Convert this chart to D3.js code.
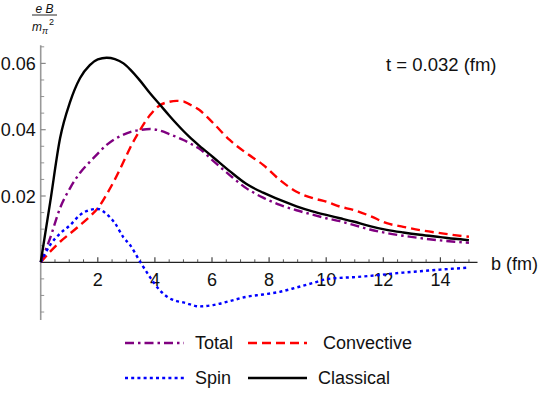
<!DOCTYPE html>
<html><head><meta charset="utf-8">
<script src="https://cdn.jsdelivr.net/npm/d3@7"></script>
<style>body{margin:0;background:#fff}svg{display:block;font-family:"Liberation Sans",Arial,sans-serif}</style>
</head><body><svg id="c" width="542" height="400"></svg>
<script>
const bValues = [0,0.33,0.68,1.03,1.38,1.72,2.0,2.31,2.6,2.9,3.13,3.48,3.83,4.18,4.5,4.76,5.0,5.2,5.55,6.04,6.62,7.21,7.79,8.38,8.96,9.55,10.0,10.48,10.95,11.53,12.12,12.7,13.29,14.0,14.5,15.0];
const classical = [0,0.018,0.0375,0.0484,0.0556,0.0595,0.0612,0.0617,0.0613,0.06,0.0582,0.0548,0.051,0.0475,0.0443,0.0418,0.0396,0.0379,0.0352,0.0317,0.0275,0.0236,0.021,0.0188,0.0169,0.0153,0.0143,0.0133,0.0123,0.0109,0.0098,0.009,0.0083,0.0076,0.0071,0.0067];
const total = [0,0.0073,0.0164,0.0224,0.027,0.0303,0.0328,0.0354,0.0372,0.0385,0.0393,0.0399,0.0402,0.0397,0.0387,0.0378,0.0369,0.036,0.0343,0.0306,0.0263,0.0223,0.0195,0.0173,0.0157,0.0143,0.0133,0.0124,0.0113,0.0099,0.0088,0.008,0.0073,0.0066,0.0062,0.0059];
const convective = [0,0.0032,0.0062,0.0087,0.0112,0.0138,0.0163,0.0205,0.025,0.0303,0.0345,0.0399,0.0444,0.0474,0.0484,0.0487,0.0485,0.0477,0.046,0.042,0.0369,0.0329,0.0294,0.0248,0.0213,0.0193,0.0183,0.0168,0.0158,0.014,0.0118,0.0107,0.0097,0.0088,0.0082,0.0077];
const spin = [0,0.0052,0.0087,0.0112,0.0143,0.0158,0.0161,0.0145,0.0118,0.0075,0.0052,0.0002,-0.0045,-0.0085,-0.0108,-0.0117,-0.0121,-0.0126,-0.0133,-0.0129,-0.0117,-0.0104,-0.0097,-0.0089,-0.0076,-0.0062,-0.0051,-0.0047,-0.0045,-0.0041,-0.0036,-0.0031,-0.0027,-0.0022,-0.0019,-0.0016];
const xTicks = [2,4,6,8,10,12,14];
const yTicks = [0.02,0.04,0.06];
const series = [
  {name:"Total", values: total, color:"#800080", dash:"9,4,2.5,4"},
  {name:"Convective", values: convective, color:"#ff0000", dash:"9,5"},
  {name:"Spin", values: spin, color:"#0000ff", dash:"3,3.2"},
  {name:"Classical", values: classical, color:"#000000", dash:null}
];

const svg = d3.select("#c");
const x = d3.scaleLinear().domain([0,15]).range([40.7, 468.95]);
const y = d3.scaleLinear().domain([0,0.06]).range([262.3, 63.4]);

// x axis
const xa = svg.append("g").attr("transform","translate(0,"+y(0)+")");
xa.append("line").attr("x1",x(0)).attr("x2",x(15.3)).attr("stroke","#222").attr("stroke-width",1.3);
d3.range(0.5,15.01,0.5).forEach(v=>{
  const major = Math.abs(v-Math.round(v/2)*2)<1e-6;
  xa.append("line").attr("x1",x(v)).attr("x2",x(v)).attr("y1",0).attr("y2",major?-5:-3).attr("stroke","#444").attr("stroke-width",major?1.2:0.9);
});
xTicks.forEach(v=>{
  xa.append("text").attr("x",x(v)).attr("y",24).attr("text-anchor","middle").attr("font-size",18).attr("fill","#111").text(v);
});
svg.append("text").attr("x",491).attr("y",y(0)+8).attr("font-size",18).attr("fill","#111").text("b (fm)");

// y axis
const ya = svg.append("g").attr("transform","translate("+x(0)+",0)");
ya.append("line").attr("y1",y(-0.0174)).attr("y2",y(0.0655)).attr("stroke","#999").attr("stroke-width",1.6);
d3.range(-0.015,0.06501,0.005).forEach(v=>{
  const major = Math.abs(v-Math.round(v/0.02)*0.02)<1e-9;
  if (Math.abs(v)<1e-9) return;
  ya.append("line").attr("x1",0).attr("x2",major?5:3.5).attr("y1",y(v)).attr("y2",y(v)).attr("stroke","#888").attr("stroke-width",major?1.2:0.9);
});
yTicks.forEach(v=>{
  ya.append("text").attr("x",-5).attr("y",y(v)+6.5).attr("text-anchor","end").attr("font-size",18).attr("fill","#111").text(d3.format(".2f")(v));
});

// y label fraction
const yl = svg.append("g");
yl.append("text").attr("x",44.5).attr("y",13).attr("text-anchor","middle").attr("font-size",12).attr("font-style","italic").attr("fill","#111").text("e B");
yl.append("line").attr("x1",32).attr("x2",57).attr("y1",15).attr("y2",15).attr("stroke","#111").attr("stroke-width",0.9);
const ml = yl.append("text").attr("x",32).attr("y",31).attr("font-size",12).attr("font-style","italic").attr("fill","#111");
ml.append("tspan").text("m");
ml.append("tspan").attr("dy",3).attr("font-size",9).text("π");
ml.append("tspan").attr("dy",-9).attr("dx",1).attr("font-size",9).attr("font-style","normal").text("2");

// annotation
svg.append("text").attr("x",386).attr("y",71).attr("font-size",18.5).attr("fill","#111").text("t = 0.032 (fm)");

// curves
const line = d3.line().x((d,i)=>x(bValues[i])).y(d=>y(d)).curve(d3.curveMonotoneX);
const order = [1,0,2,3];
order.forEach(k=>{
  const s = series[k];
  svg.append("path").attr("d",line(s.values)).attr("fill","none").attr("stroke",s.color)
    .attr("stroke-width",2.4).attr("stroke-dasharray",s.dash);
});

// legend
const leg = [
  {s:series[0], lx:125, tx:195, yy:343},
  {s:series[1], lx:248, tx:323, yy:343},
  {s:series[2], lx:125, tx:195, yy:378},
  {s:series[3], lx:248, tx:318, yy:378}
];
leg.forEach(l=>{
  svg.append("line").attr("x1",l.lx).attr("x2",l.lx+59).attr("y1",l.yy).attr("y2",l.yy)
    .attr("stroke",l.s.color).attr("stroke-width",2.4).attr("stroke-dasharray",l.s.dash);
  svg.append("text").attr("x",l.tx).attr("y",l.yy+6).attr("font-size",18).attr("fill","#111").text(l.s.name);
});
</script></body></html>
